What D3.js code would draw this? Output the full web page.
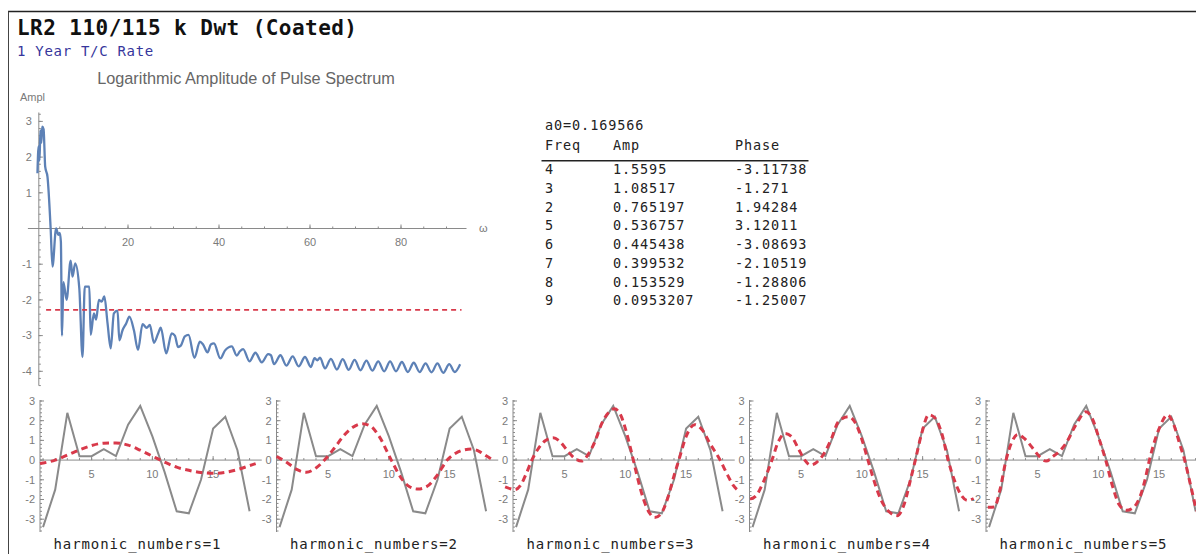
<!DOCTYPE html>
<html>
<head>
<meta charset="utf-8">
<script src="https://cdn.jsdelivr.net/npm/d3@7"></script>
<style>
    html, body { margin: 0; padding: 0; background: #fff; }
    svg { display: block; }
    .mono { font-family: "DejaVu Sans Mono", monospace; }
    .tick-label { font-family: "Liberation Sans", Arial, sans-serif; font-size: 11px; fill: #7a7a7a; }
    .axis-line { stroke: #8a8a8a; stroke-width: 1; fill: none; }
</style>
</head>
<body>
<svg id="chart" width="1196" height="554"></svg>
<script>
/*global d3*/

// texts
var title = 'LR2 110/115 k Dwt (Coated)',
    subtitle = '1 Year T/C Rate',
    spectrumTitle = 'Logarithmic Amplitude of Pulse Spectrum';

// log amplitude of the spectrum, [omega, ampl]
var spectrum = [
    [0.1, 1.55], [0.35, 2.3], [0.55, 1.9], [0.75, 2.75], [0.95, 2.4], [1.15, 2.85],
    [1.45, 2.78], [1.8, 1.73], [2.3, 1.45], [3.0, 0.0], [3.4, -1.07], [4.2, 0.0],
    [4.7, -0.18], [5.0, -0.12], [5.25, -0.37], [5.5, -3.0], [5.8, -1.5], [6.5, -2.0],
    [7.4, -0.9], [7.8, -1.35], [8.4, -0.98], [9.3, -1.68], [10.0, -3.6], [10.5, -1.63],
    [11.5, -1.63], [11.8, -2.98], [12.5, -2.38], [13.0, -2.55], [13.6, -2.0], [14.2, -2.05],
    [14.8, -1.9], [15.5, -2.65], [16.2, -3.36], [16.9, -2.38], [17.7, -2.3], [18.1, -3.13],
    [18.8, -2.85], [19.6, -2.66], [20.3, -2.47], [21.3, -2.85], [22.2, -3.4], [23.2, -2.68],
    [24.1, -2.78], [24.8, -2.7], [25.7, -3.2], [26.6, -2.95], [27.2, -2.78], [28.4, -3.5],
    [29.6, -2.94], [30.3, -3.0], [31.0, -3.32], [31.6, -3.28], [32.5, -3.02], [33.3, -2.98],
    [34.6, -3.62], [35.8, -3.17], [36.5, -3.25], [37.5, -3.47], [38.2, -3.25], [38.9, -3.22],
    [40.3, -3.64], [41.3, -3.42], [42.1, -3.33], [42.8, -3.3], [43.9, -3.56], [44.6, -3.44],
    [45.3, -3.38], [46.7, -3.72], [48.0, -3.48], [49.4, -3.75], [50.8, -3.52], [51.4, -3.55],
    [52.1, -3.8], [53.5, -3.55], [54.8, -3.84], [56.2, -3.58], [57.5, -3.86], [58.9, -3.6],
    [60.2, -3.88], [61.0, -3.63], [61.6, -3.69], [62.2, -3.62], [63.3, -3.92], [64.6, -3.65],
    [65.9, -3.95], [67.2, -3.66], [68.5, -3.96], [69.8, -3.68], [71.1, -3.97], [72.4, -3.7],
    [73.7, -3.98], [75.0, -3.72], [76.3, -4.0], [77.6, -3.72], [78.9, -4.0], [80.2, -3.74],
    [81.5, -4.02], [82.8, -3.76], [84.1, -4.02], [85.4, -3.78], [86.7, -4.03], [88.0, -3.78],
    [89.3, -4.04], [90.6, -3.8], [91.8, -4.02], [93.0, -3.8]
];
var cutoff = -2.28,
    cutoffRange = [2, 93.3];
var spectrumXTicks = [20, 40, 60, 80],
    spectrumYTicks = [-4, -3, -2, -1, 1, 2, 3];

// fourier table
var a0Text = 'a0=0.169566',
    tableHeader = ['Freq', 'Amp', 'Phase'],
    freqs = ['4', '3', '2', '5', '6', '7', '8', '9'],
    amps = ['1.5595', '1.08517', '0.765197', '0.536757', '0.445438', '0.399532', '0.153529', '0.0953207'],
    phases = ['-3.11738', '-1.271', '1.94284', '3.12011', '-3.08693', '-2.10519', '-1.28806', '-1.25007'];

// the pulse itself, one value per sample
var sampleX = [1, 2, 3, 4, 5, 6, 7, 8, 9, 10, 11, 12, 13, 14, 15, 16, 17, 18],
    sampleY = [-3.4, -1.5, 2.4, 0.2, 0.2, 0.55, 0.2, 1.8, 2.75, 1.2, -0.6, -2.6, -2.7, -1.0, 1.6, 2.2, 0.5, -2.6];

// partial fourier sums
var fit1 = [[0.75, -0.18], [1, -0.15], [2, 0.0], [3, 0.25], [4, 0.52], [5, 0.74], [6, 0.86], [7, 0.87],
        [8, 0.76], [9, 0.5], [10, 0.2], [11, -0.1], [12, -0.36], [13, -0.52], [14, -0.63], [15, -0.67],
        [16, -0.62], [17, -0.48], [18, -0.28], [18.5, -0.18]],
    fit2 = [[0.75, 0.17], [1, 0.1], [1.5, -0.08], [2, -0.3], [2.5, -0.5], [3.2, -0.62], [4, -0.4], [4.7, 0.0],
        [5.5, 0.6], [6.3, 1.25], [7, 1.65], [7.8, 1.85], [8.5, 1.72], [9.2, 1.2], [10.2, 0.0], [11, -0.9],
        [11.7, -1.35], [12.4, -1.47], [13.1, -1.35], [14, -0.75], [14.8, 0.0], [15.5, 0.35], [16.2, 0.52],
        [16.8, 0.56], [17.5, 0.42], [18, 0.22], [18.5, 0.03]],
    fit3 = [[0.1, -1.36], [0.5, -1.45], [0.9, -1.5], [1.4, -1.25], [1.9, -0.6], [2.3, 0.0], [2.8, 0.55],
        [3.4, 0.98], [4.05, 1.13], [4.6, 0.95], [5.2, 0.5], [5.8, 0.1], [6.4, -0.05], [7, 0.35], [7.5, 0.95],
        [8.05, 1.85], [8.6, 2.4], [9.1, 2.6], [9.6, 2.3], [10, 1.6], [10.5, 0.4], [11, -0.9], [11.5, -2.0],
        [12, -2.7], [12.4, -2.92], [12.9, -2.75], [13.5, -1.9], [14, -0.8], [14.4, 0.0], [15, 1.2],
        [15.7, 1.8], [16.3, 1.55], [17, 0.8], [17.8, 0.0], [18.4, -0.75], [18.9, -1.3], [19.3, -1.55]],
    fit4 = [[0.8, -1.98], [1.3, -1.8], [1.9, -1.1], [2.6, 0.0], [3.1, 0.9], [3.67, 1.35], [4.2, 1.2],
        [4.8, 0.55], [5.3, 0.0], [5.75, -0.25], [6.3, -0.1], [6.9, 0.35], [7.5, 1.1], [8.06, 1.95],
        [8.9, 2.2], [9.5, 1.85], [10, 1.05], [10.5, 0.0], [11, -1.05], [11.6, -2.05], [12.2, -2.6],
        [12.9, -2.82], [13.5, -2.2], [14, -1.0], [14.4, 0.0], [14.9, 1.3], [15.5, 2.3], [16, 2.15],
        [16.6, 1.3], [17.1, 0.0], [17.6, -1.0], [18.2, -1.8], [18.7, -2.05], [19.2, -1.95]],
    fit5 = [[0.9, -2.4], [1.45, -2.38], [1.9, -1.5], [2.4, 0.0], [2.9, 0.95], [3.36, 1.3], [3.9, 1.1],
        [4.6, 0.6], [5.2, 0.15], [5.7, -0.05], [6.3, 0.2], [6.8, 0.45], [7.33, 0.85], [8.16, 1.8],
        [8.98, 2.45], [9.5, 2.1], [10.1, 1.0], [10.6, 0.0], [11.2, -1.4], [11.7, -2.25], [12.3, -2.55],
        [12.9, -2.4], [13.4, -1.9], [13.8, -1.1], [14.2, 0.0], [15.0, 1.6], [15.7, 2.3], [16.2, 1.8],
        [16.7, 0.8], [17.1, 0.0], [17.6, -1.3], [18.1, -2.55], [18.6, -3.0]];
var fits = [fit1, fit2, fit3, fit4, fit5],
    harmonicLabels = ['harmonic_numbers=1', 'harmonic_numbers=2', 'harmonic_numbers=3',
        'harmonic_numbers=4', 'harmonic_numbers=5'];
var panelXTicks = [5, 10, 15],
    panelYTicks = [-3, -2, -1, 0, 1, 2, 3];

(function () {
    "use strict";

    var svg = d3.select('#chart'),
        red = '#d8394a',
        blue = '#5d81b6',

        // Mathematica style ticks: pointing into the plot, with minor ones between
        drawTicks = function (g, values, orient, pos, size) {
            g.selectAll(null)
                .data(values)
                .enter().append('line')
                .attr('class', 'axis-line')
                .attr('x1', function (d) { return orient === 'x' ? pos(d) : pos.base; })
                .attr('x2', function (d) { return orient === 'x' ? pos(d) : pos.base + size; })
                .attr('y1', function (d) { return orient === 'x' ? pos.base : pos(d); })
                .attr('y2', function (d) { return orient === 'x' ? pos.base - size : pos(d); });
        },

        minorRange = function (lo, hi, step) {
            return d3.range(Math.ceil(lo / step), Math.floor(hi / step) + 1).map(function (i) {
                return +(i * step).toFixed(4);
            });
        };

    // frame
    svg.append('line').attr('x1', 8).attr('x2', 1196).attr('y1', 11.5).attr('y2', 11.5)
        .attr('stroke', '#222').attr('stroke-width', 1.3);
    svg.append('line').attr('x1', 8.5).attr('x2', 8.5).attr('y1', 11.5).attr('y2', 554)
        .attr('stroke', '#444').attr('stroke-width', 1);

    svg.append('text').attr('class', 'mono')
        .attr('x', 17).attr('y', 35)
        .attr('font-size', 21).attr('font-weight', 'bold').attr('letter-spacing', 0.45)
        .attr('fill', '#111')
        .text(title);

    svg.append('text').attr('class', 'mono')
        .attr('x', 17).attr('y', 56)
        .attr('font-size', 14).attr('letter-spacing', 0.7)
        .attr('fill', '#36369c')
        .text(subtitle);

    // ---- spectrum plot ----
    var sx = d3.scaleLinear().domain([0, 80]).range([37, 401]),
        sy = d3.scaleLinear().domain([-4, 3]).range([371.3, 121.4]),
        spec = svg.append('g');

    spec.append('text')
        .attr('x', 246).attr('y', 84)
        .attr('text-anchor', 'middle')
        .attr('font-family', '"Liberation Sans", Arial, sans-serif')
        .attr('font-size', 16.3).attr('fill', '#666')
        .text(spectrumTitle);

    spec.append('text').attr('class', 'tick-label')
        .attr('x', 20).attr('y', 101)
        .text('Ampl');

    spec.append('text').attr('class', 'tick-label')
        .attr('x', 479).attr('y', 232)
        .text('ω');

    spec.append('line').attr('class', 'axis-line')
        .attr('x1', sx(-2)).attr('x2', sx(94.4))
        .attr('y1', sy(0)).attr('y2', sy(0));
    spec.append('line').attr('class', 'axis-line')
        .attr('x1', sx(0.4)).attr('x2', sx(0.4))
        .attr('y1', sy(3.25)).attr('y2', sy(-4.4));

    var sxPos = function (d) { return sx(d); },
        syPos = function (d) { return sy(d); };
    sxPos.base = sy(0);
    syPos.base = sx(0.4);

    drawTicks(spec, minorRange(5, 90, 5), 'x', sxPos, 2);
    drawTicks(spec, spectrumXTicks, 'x', sxPos, 4);
    drawTicks(spec, minorRange(-4.4, 3.2, 0.2), 'y', syPos, 2);
    drawTicks(spec, spectrumYTicks, 'y', syPos, 4);

    spec.selectAll('.xlab')
        .data(spectrumXTicks)
        .enter().append('text')
        .attr('class', 'tick-label')
        .attr('x', sx).attr('y', sy(0) + 17.5)
        .attr('text-anchor', 'middle')
        .text(String);

    spec.selectAll('.ylab')
        .data(spectrumYTicks)
        .enter().append('text')
        .attr('class', 'tick-label')
        .attr('x', sx(0.4) - 7).attr('y', sy)
        .attr('dy', '0.35em')
        .attr('text-anchor', 'end')
        .text(function (d) { return d < 0 ? '-' + (-d) : d; });

    spec.append('path')
        .datum(spectrum)
        .attr('fill', 'none')
        .attr('stroke', blue)
        .attr('stroke-width', 2.3)
        .attr('stroke-linejoin', 'round')
        .attr('d', d3.line()
            .x(function (d) { return sx(d[0]); })
            .y(function (d) { return sy(d[1]); })
            .curve(d3.curveMonotoneX));

    spec.append('line')
        .attr('x1', sx(cutoffRange[0])).attr('x2', sx(cutoffRange[1]))
        .attr('y1', sy(cutoff)).attr('y2', sy(cutoff))
        .attr('stroke', red).attr('stroke-width', 1.8)
        .attr('stroke-dasharray', '5,4');

    // ---- coefficient table ----
    var table = svg.append('g')
            .attr('class', 'mono')
            .attr('font-size', 13.5)
            .attr('letter-spacing', 0.9)
            .attr('fill', '#222'),
        colX = [545, 613, 735],
        rowY = d3.scaleLinear().domain([0, freqs.length - 1]).range([174, 305.3]);

    table.append('text').attr('x', colX[0]).attr('y', 129.5).text(a0Text);

    table.selectAll('.head')
        .data(tableHeader)
        .enter().append('text')
        .attr('x', function (d, i) { return colX[i]; })
        .attr('y', 149.5)
        .text(String);

    table.append('line')
        .attr('x1', 541.5).attr('x2', 808.5)
        .attr('y1', 160.7).attr('y2', 160.7)
        .attr('stroke', '#222').attr('stroke-width', 1.4);

    [freqs, amps, phases].forEach(function (col, c) {
        table.selectAll(null)
            .data(col)
            .enter().append('text')
            .attr('x', colX[c])
            .attr('y', function (d, i) { return rowY(i); })
            .text(String);
    });

    // ---- harmonic panels ----
    var panelLeft = 40,
        panelStep = 236.5,
        unit = 12.15,
        axisAt = 0.75;

    fits.forEach(function (fit, i) {
        var left = panelLeft + i * panelStep,
            x = d3.scaleLinear().domain([axisAt, 19]).range([left, left + (19 - axisAt) * unit]),
            y = d3.scaleLinear().domain([-3.65, 3.05]).range([532, 400]),
            g = svg.append('g'),
            xPos = function (d) { return x(d); },
            yPos = function (d) { return y(d); };

        xPos.base = y(0);
        yPos.base = x(axisAt);

        g.append('line').attr('class', 'axis-line')
            .attr('x1', x(axisAt)).attr('x2', x(19))
            .attr('y1', y(0)).attr('y2', y(0));
        g.append('line').attr('class', 'axis-line')
            .attr('x1', x(axisAt)).attr('x2', x(axisAt))
            .attr('y1', y(3.05)).attr('y2', y(-3.65));

        drawTicks(g, minorRange(1, 18, 1), 'x', xPos, 2);
        drawTicks(g, panelXTicks, 'x', xPos, 4);
        drawTicks(g, minorRange(-3.6, 3, 0.2), 'y', yPos, 2);
        drawTicks(g, panelYTicks, 'y', yPos, 4);

        g.selectAll('.xlab')
            .data(panelXTicks)
            .enter().append('text')
            .attr('class', 'tick-label')
            .attr('x', x).attr('y', y(0) + 18)
            .attr('text-anchor', 'middle')
            .text(String);

        g.selectAll('.ylab')
            .data(panelYTicks)
            .enter().append('text')
            .attr('class', 'tick-label')
            .attr('x', x(axisAt) - 5).attr('y', y)
            .attr('dy', '0.35em')
            .attr('text-anchor', 'end')
            .text(function (d) { return d < 0 ? '-' + (-d) : d; });

        g.append('path')
            .datum(sampleX.map(function (sx, k) { return [sx, sampleY[k]]; }))
            .attr('fill', 'none')
            .attr('stroke', '#8a8a8a')
            .attr('stroke-width', 2)
            .attr('d', d3.line()
                .x(function (d) { return x(d[0]); })
                .y(function (d) { return y(d[1]); }));

        g.append('path')
            .datum(fit)
            .attr('fill', 'none')
            .attr('stroke', red)
            .attr('stroke-width', 3)
            .attr('stroke-dasharray', '6.5,4.5')
            .attr('d', d3.line()
                .x(function (d) { return x(d[0]); })
                .y(function (d) { return y(d[1]); })
                .curve(d3.curveMonotoneX));

        g.append('text')
            .attr('class', 'mono')
            .attr('x', left + 97.5).attr('y', 549)
            .attr('text-anchor', 'middle')
            .attr('font-size', 14).attr('letter-spacing', 0.9)
            .attr('fill', '#222')
            .text(harmonicLabels[i]);
    });
}());
</script>
</body>
</html>
